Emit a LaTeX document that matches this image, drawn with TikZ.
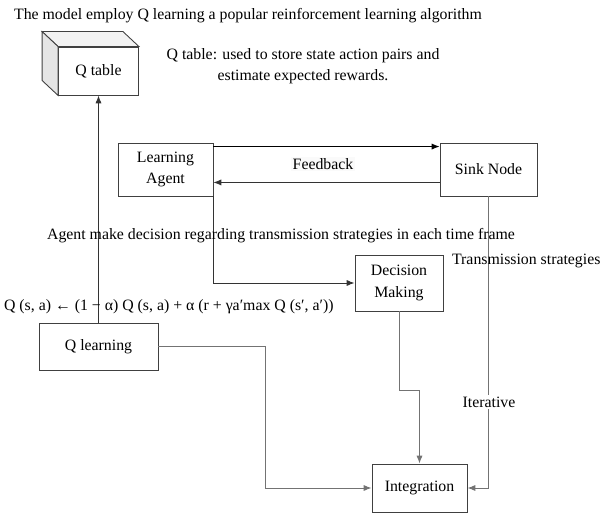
\documentclass[tikz,border=0pt]{standalone}
\usepackage{fontspec}
\setmainfont{Liberation Serif}
\usepackage{tikz}
\usetikzlibrary{arrows.meta,positioning,calc}

\begin{document}
\begin{tikzpicture}[
  >={Latex[length=4.5pt,width=3.5pt]},
  font=\fontsize{9pt}{12pt}\selectfont,
  box/.style={draw=black!75,rectangle,align=center,inner sep=2pt,line width=0.5pt,fill=white},
  lbl/.style={align=center,inner sep=1pt},
  arr/.style={->,line width=0.5pt},
  garr/.style={->,line width=0.55pt,draw=black!55}
]
  \useasboundingbox (0,0) rectangle (12.16,-10.26);

  \node[lbl,anchor=west] (title) at (0.24,-0.32)
    {The model employ Q learning a popular reinforcement learning algorithm};

  % Q table drawn as a box with two visible side faces
  \node[box,minimum width=1.6cm,minimum height=0.96cm] (qt) at (1.97,-1.42) {Q table};
  \draw[black!75,line width=0.5pt,fill=gray!10]
    (qt.north west) -- ++(-0.32,0.30) -- ($(qt.north east)+(-0.32,0.30)$)
    -- (qt.north east) -- cycle;
  \draw[black!75,line width=0.5pt,fill=gray!20]
    (qt.north west) -- ++(-0.32,0.30) -- ($(qt.south west)+(-0.32,0.30)$)
    -- (qt.south west) -- cycle;
  \node[lbl] (qtnote) at (6.06,-1.32)
    {Q table: used to store state action pairs and\\estimate expected rewards.};

  \node[box,minimum width=1.9cm,minimum height=1.06cm] (la) at (3.31,-3.39) {Learning\\Agent};
  \node[box,minimum width=1.94cm,minimum height=1.06cm] (sink) at (9.77,-3.39) {Sink Node};

  \draw[arr] ([yshift=-0.08cm]la.north east) -- ([yshift=-0.08cm]sink.north west);
  \draw[arr,black!80] ([yshift=0.28cm]sink.south west) -- ([yshift=0.28cm]la.south east);
  \node[lbl,fill=gray!4] (fb) at (6.46,-3.28) {Feedback};

  \node[box,minimum width=1.76cm,minimum height=1.12cm] (dm) at (7.98,-5.66) {Decision\\Making};
  \node[box,minimum width=2.38cm,minimum height=0.94cm] (ql) at (1.97,-6.93) {Q learning};
  \node[box,minimum width=1.9cm,minimum height=0.96cm] (integ) at (8.39,-9.76) {Integration};

  \draw[arr,black!80] (ql.north) -- (qt.south);
  \draw[arr,black!80] (la.south east) |- (dm.west);

  \coordinate (bend) at (8.39,-7.8);
  \coordinate (turn) at (5.3,-6.93);
  \draw[garr] (dm.south) |- (bend) -- (integ.north);
  \draw[garr] (ql.east) -- (turn) |- (integ.west);
  \draw[garr] (sink.south) |- (integ.east);

  \node[lbl] (agentnote) at (5.62,-4.72)
    {Agent make decision regarding transmission strategies in each time frame};
  \node[lbl,anchor=west] (trans) at (9.0,-5.22) {Transmission strategies};
  \node[lbl,anchor=west] (formula) at (0.04,-6.14)
    {Q (s, a) ← (1 − α) Q (s, a) + α (r + γa′max Q (s′, a′))};
  \node[lbl,fill=white] (iter) at (9.78,-8.04) {Iterative};
\end{tikzpicture}
\end{document}
